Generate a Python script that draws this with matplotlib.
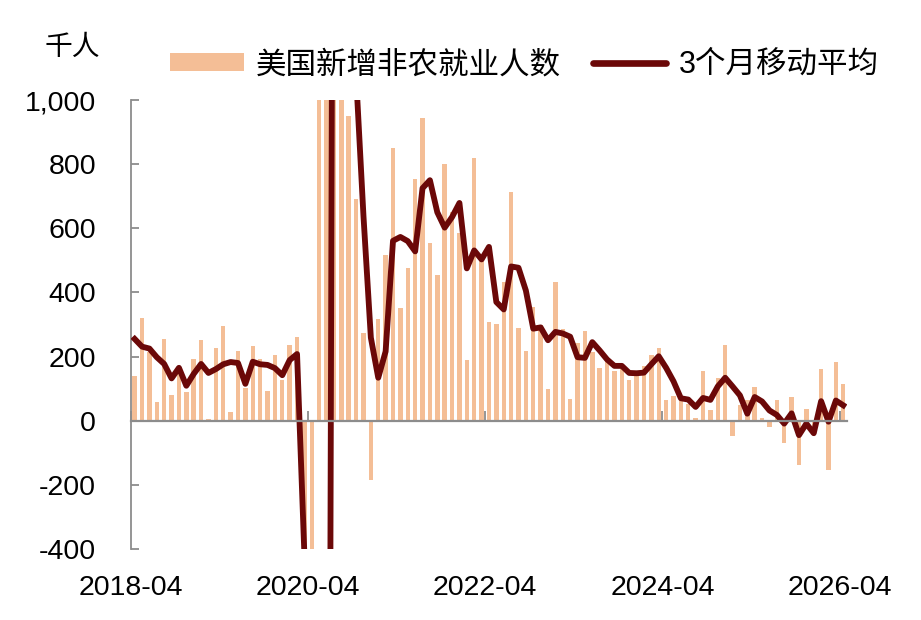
import matplotlib
matplotlib.use("Agg")
import matplotlib.pyplot as plt
from matplotlib.patches import Patch
from matplotlib.lines import Line2D
import pandas as pd

plt.rcParams['font.family'] = ['Liberation Sans', 'Noto Sans CJK SC']

# monthly data, 2018-04 .. 2026-04 (thousands)
months = pd.period_range('2018-04', '2026-04', freq='M').strftime('%Y-%m').tolist()

payrolls = [
    139, 321, 215, 59, 256, 80, 158, 89, 191, 252, 5, 227,
    295, 27, 218, 101, 233, 194, 94, 205, 127, 236, 262, -1760,
    -20477, 2833, 4846, 1726, 1583, 950, 691, 272, -185, 316, 517, 850,
    352, 477, 755, 943, 553, 454, 800, 650, 586, 189, 818, 501,
    308, 301, 431, 712, 289, 218, 355, 300, 99, 432, 285, 68,
    241, 280, 215, 163, 194, 156, 163, 127, 154, 170, 205, 227,
    64, 77, 70, 52, 7, 155, 33, 132, 236, -48, 50, 65,
    106, 10, -21, 64, -71, 75, -139, 38, -15, 160, -155, 184,
    114,
]

avg_3m = [
    255, 231, 225, 198, 177, 132, 165, 109, 146, 177, 149, 161,
    176, 183, 180, 115, 184, 176, 174, 164, 142, 189, 208, -420,
    -7325, -6468, -4266, 3135, 2718, 1420, 1075, 638, 259, 134, 216, 561,
    573, 560, 528, 725, 750, 650, 602, 635, 679, 475, 531, 503,
    542, 370, 347, 481, 477, 406, 287, 291, 251, 277, 272, 262,
    198, 196, 245, 219, 191, 171, 171, 149, 148, 150, 176, 201,
    165, 123, 70, 66, 43, 71, 65, 107, 134, 107, 79, 22,
    74, 60, 32, 18, -9, 23, -45, -9, -39, 61, -3, 63,
    48,
]

tick_labels = ['2018-04', '2020-04', '2022-04', '2024-04', '2026-04']

bar_color = '#F4BE96'
line_color = '#6B0808'
axis_gray = '#8C8C8C'

fig = plt.figure(figsize=(9.21, 6.2), dpi=100)
ax = fig.add_axes([0.1422, 0.1145, 0.7774, 0.7242])

x = [i + 0.5 for i in range(len(months))]
ax.bar(x, payrolls, width=0.6, color=bar_color, zorder=2)
ax.plot(x, avg_3m, color=line_color, lw=4.2, zorder=3)

ax.set_xlim(0, len(months))
ax.set_ylim(-400, 1000)
ax.set_yticks(range(-400, 1001, 200))
ax.set_yticklabels([f'{v:,}' for v in range(-400, 1001, 200)])

tick_pos = [months.index(t) for t in tick_labels]
ax.set_xticks(tick_pos)
ax.set_xticklabels(tick_labels)

for s in ['top', 'right']:
    ax.spines[s].set_visible(False)
ax.spines['left'].set_color(axis_gray)
ax.spines['left'].set_linewidth(1.3)
ax.spines['bottom'].set_position(('data', 0))
ax.spines['bottom'].set_color(axis_gray)
ax.spines['bottom'].set_linewidth(1.6)
ax.spines['bottom'].set_zorder(4)

ax.tick_params(axis='y', direction='in', length=6, width=1.3, color=axis_gray,
               labelsize=20.5, pad=25)
ax.tick_params(axis='x', direction='in', length=7, width=1.3, color=axis_gray,
               labelsize=20.5, pad=111)

fig.text(0.078, 0.922, '千人', fontsize=20, ha='center', va='center')

handles = [Patch(facecolor=bar_color, edgecolor='none'),
           Line2D([], [], color=line_color, lw=4.8, solid_capstyle='round')]
fig.legend(handles, ['美国新增非农就业人数', '3个月移动平均'],
           loc='center left', bbox_to_anchor=(0.185, 0.895), ncol=2,
           frameon=False, fontsize=22, handlelength=2.4, handleheight=0.55,
           handletextpad=0.4, columnspacing=1.05, borderpad=0, borderaxespad=0)

fig.savefig('out.png', dpi=100)
